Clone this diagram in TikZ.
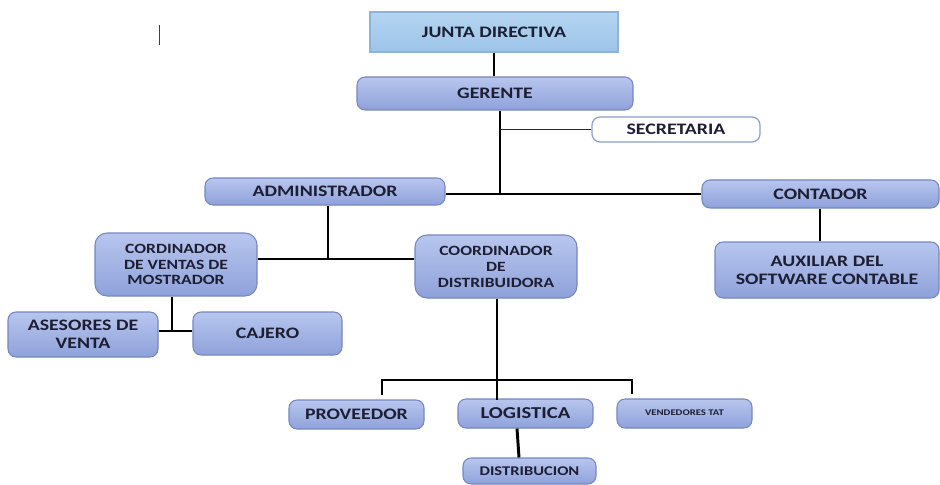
\documentclass[tikz,border=0pt]{standalone}
\usepackage{fontspec}
\setmainfont{Carlito}[FakeStretch=1.24]
\definecolor{boxtop}{HTML}{B8C6EE}
\definecolor{boxbot}{HTML}{8EA1DA}
\definecolor{boxline}{HTML}{7487C0}
\definecolor{jtop}{HTML}{B3D5F1}
\definecolor{jbot}{HTML}{9DC4E8}
\definecolor{jline}{HTML}{8DB3DD}
\definecolor{txt}{HTML}{1E1E33}
\definecolor{secline}{HTML}{8A9ED0}
\definecolor{barcol}{HTML}{404040}
\begin{document}
\begin{tikzpicture}[x=0.75pt,y=-0.75pt,
  sz/.style n args={2}{minimum width=#1*0.75pt, minimum height=#2*0.75pt},
  orgbox/.style={draw=boxline, line width=0.8pt, rounded corners=6pt,
    top color=boxtop, bottom color=boxbot, inner sep=0pt, text=txt,
    font=\bfseries\fontsize{12}{13.5}\selectfont, align=center},
  bigcorner/.style={rounded corners=9pt},
  juntabox/.style={draw=jline, line width=0.8pt, top color=jtop, bottom color=jbot,
    inner sep=0pt, text=txt, font=\bfseries\fontsize{12}{13.5}\selectfont, align=center},
  secbox/.style={draw=secline, line width=0.9pt, rounded corners=6pt, fill=white,
    inner sep=0pt, text=txt, font=\bfseries\fontsize{12}{13.5}\selectfont, align=center},
  mainline/.style={line width=2.2pt, black},
  hline/.style={line width=1.6pt, black},
  thinline/.style={line width=1.1pt, black!85}]
\useasboundingbox (0,0) rectangle (940,485);
\fill[white] (0,0) rectangle (940,485);

% stray cursor bar
\draw[barcol, line width=1.4pt] (159.5,25) -- (159.5,45);

% boxes
\node[juntabox, sz={248}{40}] (jd) at (494,32) {JUNTA DIRECTIVA};
\node[orgbox, sz={276}{33}] (ger) at (495,93.5) {GERENTE};
\node[secbox, sz={168}{25}] (sec) at (676,129.5) {SECRETARIA};
\node[orgbox, sz={240}{27}] (adm) at (325,191.5) {ADMINISTRADOR};
\node[orgbox, sz={237}{28}] (cont) at (820.5,194) {CONTADOR};
\node[orgbox, sz={224}{56}] (aux) at (827,270) {AUXILIAR DEL\\SOFTWARE CONTABLE};
\node[orgbox, bigcorner, sz={162}{63},
  font=\bfseries\fontsize{10.6}{11.6}\selectfont] (cvm) at (176,264.5) {CORDINADOR\\DE VENTAS DE\\MOSTRADOR};
\node[orgbox, bigcorner, sz={162}{63},
  font=\bfseries\fontsize{10.6}{12}\selectfont] (cdd) at (496,266.5) {COORDINADOR\\DE\\DISTRIBUIDORA};
\node[orgbox, sz={150}{45}] (ase) at (83,334.5) {ASESORES DE\\VENTA};
\node[orgbox, sz={149}{43}] (caj) at (267.5,333.5) {CAJERO};
\node[orgbox, sz={135}{29}] (prov) at (356.5,414.5) {PROVEEDOR};
\node[orgbox, sz={135}{29}, font=\bfseries\fontsize{12.5}{14}\selectfont] (log) at (525.5,413.5) {LOGISTICA};
\node[orgbox, sz={135}{29}, font=\bfseries\fontsize{6.5}{7}\selectfont] (vend) at (684.5,413.5) {\raisebox{1.5pt}{VENDEDORES TAT}};
\node[orgbox, sz={133}{26}, font=\bfseries\fontsize{10}{11}\selectfont] (dis) at (529.5,471) {DISTRIBUCION};

% helper coordinates
\coordinate (j1) at (494,0);
\coordinate (g1) at (500,194);
\coordinate (a1) at (328,259);
\coordinate (c1) at (172,331);
\coordinate (d1) at (497,380);
\coordinate (d2) at (382,380);
\coordinate (d3) at (632,380);
\coordinate (k1) at (820,0);
\coordinate (l1) at (517,0);
\coordinate (l2) at (519,0);

% connectors
\draw[mainline] (jd.south -| j1) -- (ger.north -| j1);
\draw[mainline] (ger.south -| g1) -- (g1);
\draw[thinline] (sec.west -| g1) -- (sec.west);
\draw[hline] (adm.east |- g1) -- (cont.west |- g1);
\draw[mainline] (cont.south -| k1) -- (aux.north -| k1);
\draw[mainline] (adm.south -| a1) -- (a1);
\draw[hline] (cvm.east |- a1) -- (cdd.west |- a1);
\draw[mainline] (cvm.south -| c1) -- (c1);
\draw[hline] (ase.east |- c1) -- (caj.west |- c1);
\draw[mainline] (cdd.south -| d1) -- ([yshift=-1pt]log.north -| d1);
\draw[hline, shorten <=3.5pt, shorten >=3.5pt] (d2 |- prov.north) -- (d2) -- (d3) -- (d3 |- vend.north);
\draw[mainline] (log.south -| l1) -- (dis.north -| l2);
\end{tikzpicture}
\end{document}
